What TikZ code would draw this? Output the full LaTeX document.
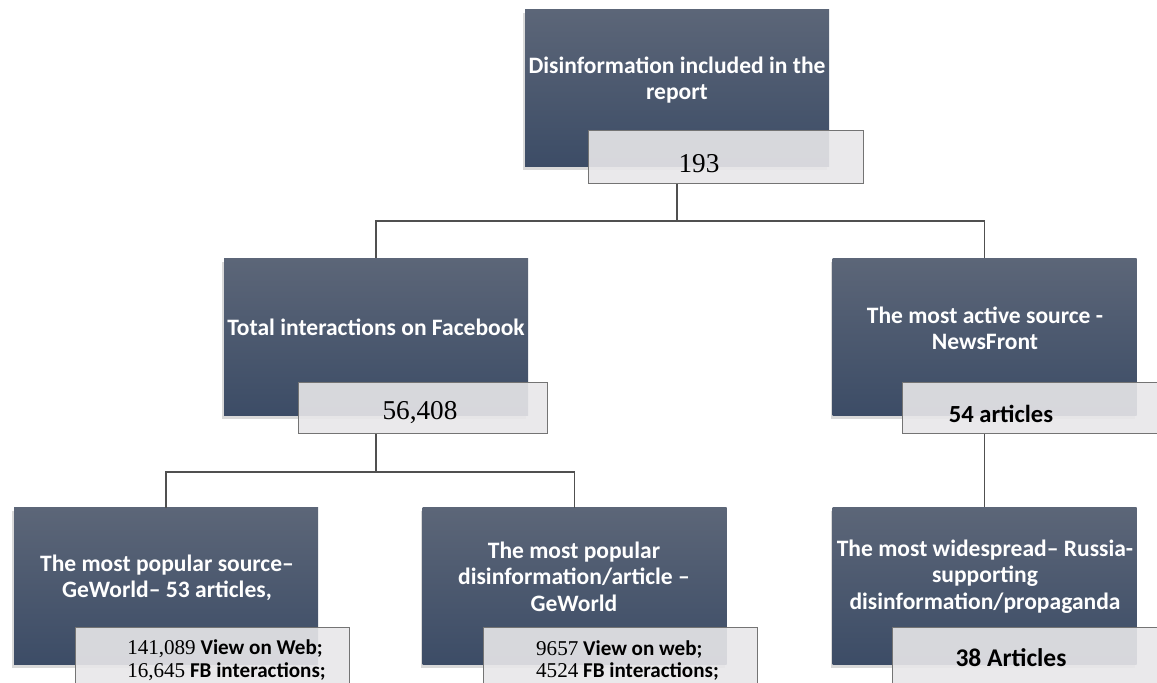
\documentclass[tikz,border=0pt]{standalone}
\usepackage{fontspec}
\setmainfont{Carlito}
\newfontfamily\numfont{Liberation Serif}
\usetikzlibrary{shadows}

\tikzset{
	darkbox/.style={rectangle, minimum width=6.08cm, minimum height=3.14cm, top color=boxtop, bottom color=boxbottom, drop shadow={shadow xshift=-0.4mm, shadow yshift=-0.7mm, opacity=0.3}},
	graybox/.style={rectangle, anchor=north west, draw=frame, line width=0.6pt, fill=panel, fill opacity=0.9},
	boxtext/.style={text=white, font=\fontsize{13.4}{15}\selectfont\bfseries, align=center},
	valtext/.style={text=black, font=\fontsize{12}{13}\selectfont\bfseries, align=left},
	conn/.style={draw=linegray, line width=0.6pt}
}

\begin{document}
\begin{tikzpicture}
		\definecolor{boxtop}{HTML}{5C6678}
		\definecolor{boxbottom}{HTML}{3C4C66}
		\definecolor{panel}{HTML}{E8E7E9}
		\definecolor{frame}{HTML}{747474}
		\definecolor{linegray}{HTML}{505050}
		\clip (0,0) rectangle (23.14,13.66);
		% report
		\node[darkbox] (top) at (13.54,11.9) {};
		\node[graybox, minimum width=5.5cm, minimum height=1.06cm] (top-g) at (11.76,11.06) {};
		\node[boxtext] (top-t) at (13.54,12.06) {Disinformation included in the\\report};
		\node[valtext, font=\fontsize{15.5}{16}\selectfont\numfont] (top-v) at (13.98,10.38) {193};
		% facebook
		\node[darkbox] (midl) at (7.52,6.92) {};
		\node[graybox, minimum width=4.98cm, minimum height=1.02cm] (midl-g) at (5.96,6.02) {};
		\node[boxtext] (midl-t) at (7.52,7.12) {Total interactions on Facebook};
		\node[valtext, font=\fontsize{15.5}{16}\selectfont\numfont] (midl-v) at (8.4,5.4) {56,408};
		% newsfront
		\node[darkbox] (midr) at (19.69,6.92) {};
		\node[graybox, minimum width=5.5cm, minimum height=1.02cm] (midr-g) at (18.04,6.02) {};
		\node[boxtext] (midr-t) at (19.7,7.1) {The most active source -\\NewsFront};
		\node[valtext, font=\fontsize{14}{15}\selectfont\bfseries] (midr-v) at (20.02,5.38) {54 articles};
		% geworld source
		\node[darkbox] (botl) at (3.32,1.93) {};
		\node[graybox, minimum width=5.48cm, minimum height=1.2cm] (botl-g) at (1.5,1.12) {};
		\node[boxtext] (botl-t) at (3.34,2.1) {The most popular source--\\GeWorld-- 53 articles,};
		\node[valtext] (botl-v) at (4.53,0.45) {{\numfont\mdseries 141,089} View on Web;\\{\numfont\mdseries 16,645} FB interactions;};
		% geworld article
		\node[darkbox] (botm) at (11.49,1.93) {};
		\node[graybox, minimum width=5.48cm, minimum height=1.2cm] (botm-g) at (9.66,1.12) {};
		\node[boxtext] (botm-t) at (11.48,2.13) {The most popular\\disinformation/article --\\GeWorld};
		\node[valtext] (botm-v) at (12.55,0.45) {{\numfont\mdseries 9657} View on web;\\{\numfont\mdseries 4524} FB interactions;};
		% propaganda
		\node[darkbox] (botr) at (19.69,1.94) {};
		\node[graybox, minimum width=5.48cm, minimum height=1.2cm] (botr-g) at (17.84,1.12) {};
		\node[boxtext] (botr-t) at (19.7,2.13) {The most widespread-- Russia-\\supporting\\disinformation/propaganda};
		\node[valtext, font=\fontsize{14.5}{15}\selectfont\bfseries] (botr-v) at (20.22,0.51) {38 Articles};
		
		% connectors
		\coordinate (split1) at (13.54,9.24);
		\coordinate (split2) at (7.52,4.22);
		\draw[conn] (top-g.south -| top.center) -- (split1) -| (midl.north);
		\draw[conn] (split1) -| (midr.north);
		\draw[conn] (midl-g.south -| midl.center) -- (split2) -| (botl.north);
		\draw[conn] (split2) -| (botm.north);
		\draw[conn] (midr-g.south -| midr.center) -- (botr.north);
		
\end{tikzpicture}
\end{document}
